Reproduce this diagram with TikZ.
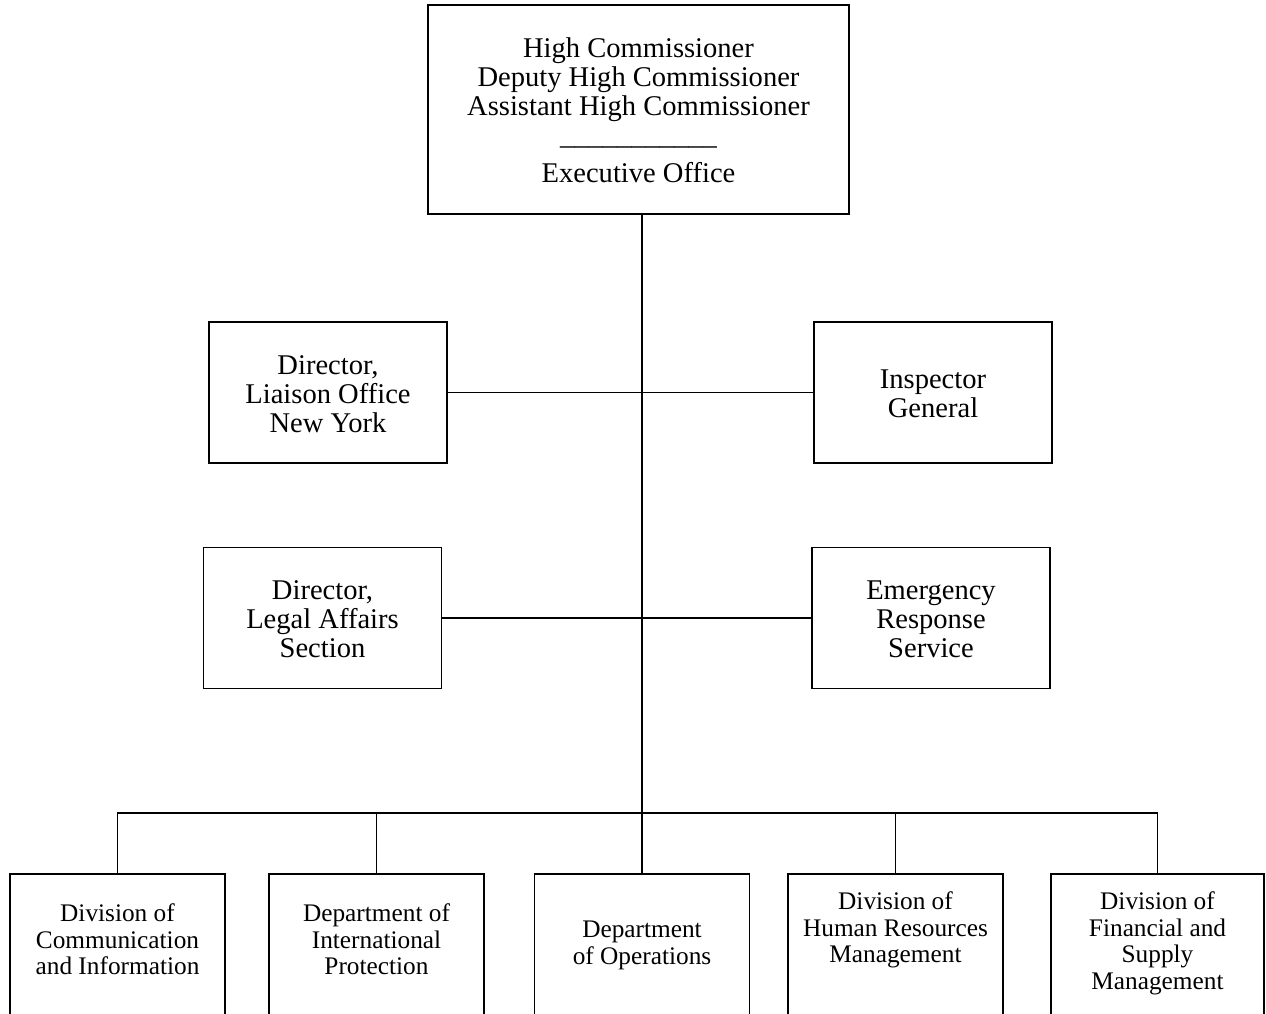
\documentclass[tikz,border=0pt]{standalone}
\usepackage{fontspec}
\setmainfont{Liberation Serif}
\newcommand{\unitlines}[1]{\begin{tabular}[t]{@{}c@{}}#1\end{tabular}}
\tikzset{
	office/.style={draw,line width=1.2pt,inner sep=0pt,text height=21.5pt,font=\fontsize{20.3pt}{20.6pt}\selectfont},
	sideoffice/.style={office,minimum width=5.95cm,minimum height=3.525cm},
	division/.style={office,anchor=north,minimum width=5.375cm,text depth=2.8cm,font=\fontsize{18pt}{18.8pt}\selectfont},
}
\begin{document}
\begin{tikzpicture}[x=0.025cm,y=-0.025cm]
		\useasboundingbox(0,0) rectangle (1266,1013);
		\clip(0,0) rectangle (1266,1013);
		\node[office,minimum width=10.525cm,minimum height=5.225cm](hc) at(638.5,109.5){\unitlines{High Commissioner\\Deputy High Commissioner\\Assistant High Commissioner\\\_\_\_\_\_\_\_\_\_\_\_\\[6.4pt]Executive Office}};
		\node[sideoffice](liaison) at(328,392.5){\unitlines{Director,\\Liaison Office\\New York}};
		\node[sideoffice](inspector) at(933,392.5){\unitlines{Inspector\\General}};
		\node[sideoffice](legal) at(322.5,618){\unitlines{Director,\\Legal Affairs\\Section}};
		\node[sideoffice](emergency) at(931,618){\unitlines{Emergency\\Response\\Service}};
		\node[division,text height=1.2cm](dci) at(117.5,873){\unitlines{Division of\\Communication\\and Information}};
		\node[division,text height=1.2cm](dip) at(376.5,873){\unitlines{Department of\\International\\Protection}};
		\node[division,text height=1.6cm](dos) at(642,873){\unitlines{Department\\of Operations}};
		\node[division,text height=0.9cm](dhrm) at(895.5,873){\unitlines{Division of\\Human Resources\\Management}};
		\node[division,text height=0.9cm,minimum width=5.325cm](dfsm) at(1157.5,873){\unitlines{Division of\\Financial and\\Supply\\Management}};
		\coordinate(bus) at(641,813);
		\draw[line width=1.2pt](dos.north)--(dos.north |- hc.south);
		\draw[line width=1.2pt](liaison.east)--(inspector.west);
		\draw[line width=1.2pt](legal.east)--(emergency.west);
		\draw[line width=1.2pt](dci.north)--(dci.north |- bus)--(dfsm.north |- bus)--(dfsm.north);
		\draw[line width=1.2pt](dip.north)--(dip.north |- bus);
		\draw[line width=1.2pt](dhrm.north)--(dhrm.north |- bus);
	\end{tikzpicture}
\end{document}
